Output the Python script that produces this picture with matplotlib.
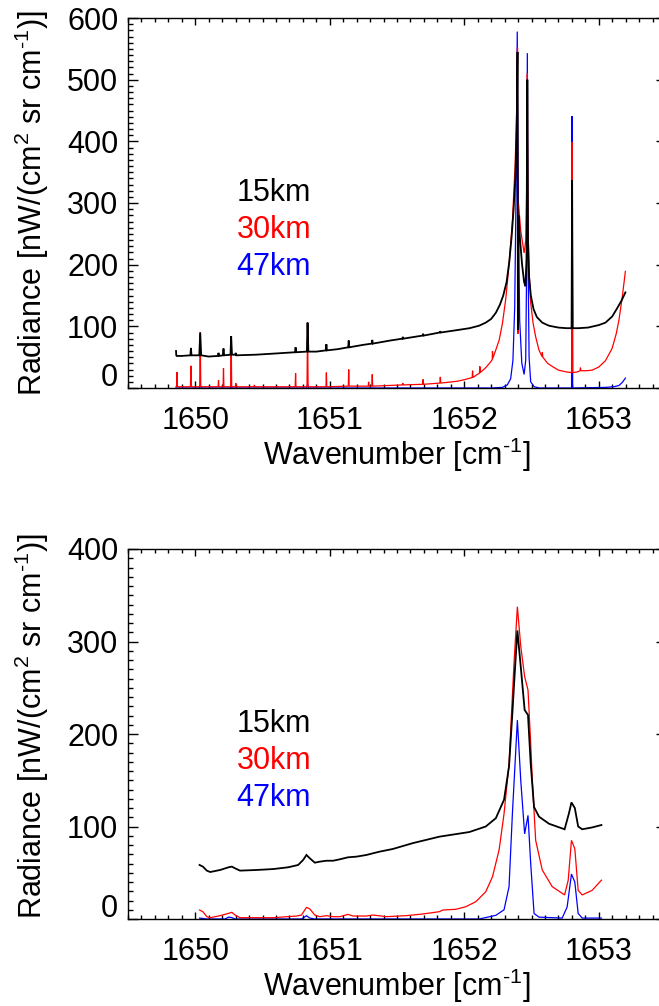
import matplotlib
matplotlib.use("Agg")
import matplotlib.pyplot as plt
from matplotlib.ticker import MultipleLocator, FixedLocator, FuncFormatter

plt.rcParams["font.family"] = ["Liberation Sans", "DejaVu Sans"]
plt.rcParams["mathtext.fontset"] = "custom"
plt.rcParams["mathtext.rm"] = "Liberation Sans"
plt.rcParams["mathtext.it"] = "Liberation Sans:italic"
plt.rcParams["mathtext.bf"] = "Liberation Sans:bold"

# ---- data ----
labels = ["15km", "30km", "47km"]
colors = ["black", "red", "blue"]

# top panel: high resolution spectra
top_wn_15 = [1649.857, 1649.859, 1649.862, 1649.900, 1649.964, 1649.968, 1649.972, 1650.030, 1650.037,
             1650.044, 1650.100, 1650.168, 1650.173, 1650.178, 1650.205, 1650.210, 1650.215, 1650.262,
             1650.267, 1650.273, 1650.298, 1650.301, 1650.305, 1650.450, 1650.600, 1650.742, 1650.746,
             1650.750, 1650.830, 1650.835, 1650.841, 1650.900, 1650.971, 1650.975, 1650.979, 1651.060,
             1651.137, 1651.141, 1651.145, 1651.250, 1651.312, 1651.316, 1651.320, 1651.450, 1651.540,
             1651.543, 1651.546, 1651.690, 1651.694, 1651.698, 1651.818, 1651.822, 1651.826, 1651.950,
             1652.040, 1652.110, 1652.160, 1652.200, 1652.235, 1652.265, 1652.290, 1652.315, 1652.335,
             1652.352, 1652.367, 1652.380, 1652.390, 1652.396, 1652.399, 1652.403, 1652.415, 1652.430,
             1652.445, 1652.455, 1652.463, 1652.469, 1652.474, 1652.482, 1652.495, 1652.515, 1652.540,
             1652.580, 1652.630, 1652.700, 1652.760, 1652.798, 1652.802, 1652.806, 1652.850, 1652.920,
             1653.000, 1653.050, 1653.100, 1653.136, 1653.170, 1653.198]
top_rad_15 = [60, 53, 52, 52, 53, 65, 53, 53, 90,
              53, 51, 52, 57, 52, 53, 64, 53, 54,
              84, 54, 54, 57, 53, 54, 56, 58, 66,
              58, 59, 106, 59, 59, 61, 71, 61, 63,
              66, 77, 66, 70, 72, 78, 72, 77, 80,
              83, 80, 85, 88, 85, 90, 92, 90, 94,
              97, 101, 106, 112, 122, 135, 150, 172, 205,
              245, 290, 340, 420, 545, 94, 280, 240, 200,
              172, 165, 210, 500, 240, 180, 150, 128, 115,
              106, 101, 98, 97, 97, 337, 97, 97, 98,
              102, 106, 116, 129, 142, 155]

top_wn_30 = [1649.857, 1649.861, 1649.864, 1649.867, 1649.964, 1649.968, 1649.972, 1650.033, 1650.037,
             1650.041, 1650.170, 1650.173, 1650.176, 1650.207, 1650.210, 1650.213, 1650.263, 1650.267,
             1650.271, 1650.298, 1650.301, 1650.304, 1650.437, 1650.440, 1650.443, 1650.743, 1650.746,
             1650.749, 1650.831, 1650.835, 1650.839, 1650.972, 1650.975, 1650.978, 1651.138, 1651.141,
             1651.144, 1651.286, 1651.289, 1651.292, 1651.313, 1651.316, 1651.319, 1651.540, 1651.543,
             1651.546, 1651.691, 1651.694, 1651.697, 1651.819, 1651.822, 1651.825, 1651.950, 1652.010,
             1652.059, 1652.062, 1652.065, 1652.090, 1652.113, 1652.116, 1652.119, 1652.160, 1652.195,
             1652.208, 1652.210, 1652.212, 1652.235, 1652.260, 1652.284, 1652.309, 1652.333, 1652.358,
             1652.378, 1652.390, 1652.396, 1652.399, 1652.403, 1652.420, 1652.445, 1652.458, 1652.465,
             1652.469, 1652.474, 1652.482, 1652.494, 1652.512, 1652.531, 1652.555, 1652.578, 1652.581,
             1652.584, 1652.620, 1652.654, 1652.700, 1652.760, 1652.798, 1652.802, 1652.806, 1652.840,
             1652.861, 1652.864, 1652.867, 1652.910, 1652.951, 1653.000, 1653.049, 1653.099, 1653.130,
             1653.150, 1653.175, 1653.198]
top_rad_30 = [2, 2, 26, 2, 2, 36, 2, 2, 90,
              2, 2, 13, 2, 2, 32, 2, 2, 83,
              2, 2, 8, 2, 2, 5, 2, 2, 24,
              2, 2, 106, 2, 2, 25, 2, 3, 30,
              3, 3, 10, 3, 3, 22, 3, 5, 8,
              5, 6, 14, 6, 8, 18, 8, 11, 14,
              17, 28, 17, 21, 24, 35, 25, 33, 42,
              46, 60, 48, 62, 78, 105, 145, 200, 270,
              360, 450, 552, 88, 300, 255, 219, 240, 330,
              510, 260, 190, 138, 105, 83, 62, 51, 58,
              50, 40, 35, 29, 26, 25, 399, 25, 26,
              28, 33, 28, 28, 29, 34, 44, 64, 88,
              110, 148, 189]

top_wn_47 = [1649.857, 1650.030, 1650.037, 1650.044, 1650.260, 1650.267, 1650.274, 1650.828, 1650.835,
             1650.842, 1652.200, 1652.284, 1652.320, 1652.345, 1652.362, 1652.375, 1652.386, 1652.394,
             1652.402, 1652.412, 1652.428, 1652.445, 1652.457, 1652.464, 1652.469, 1652.474, 1652.482,
             1652.494, 1652.520, 1652.560, 1652.798, 1652.802, 1652.806, 1653.050, 1653.110, 1653.150,
             1653.175, 1653.198]
top_rad_47 = [0, 0, 5, 0, 0, 4, 0, 0, 6,
              0, 0, 1, 5, 15, 45, 130, 330, 578,
              300, 110, 40, 22, 45, 200, 543, 220, 50,
              10, 2, 0, 0, 441, 0, 1, 2, 4,
              9, 16]

# bottom panel: convolved spectra
bot_wn_15 = [1650.032, 1650.057, 1650.086, 1650.111, 1650.185, 1650.247, 1650.272, 1650.296, 1650.333,
             1650.457, 1650.580, 1650.691, 1650.765, 1650.802, 1650.827, 1650.852, 1650.889, 1650.926,
             1650.975, 1651.025, 1651.074, 1651.136, 1651.198, 1651.272, 1651.321, 1651.370, 1651.469,
             1651.617, 1651.815, 1652.037, 1652.160, 1652.235, 1652.296, 1652.333, 1652.358, 1652.375,
             1652.395, 1652.420, 1652.449, 1652.474, 1652.494, 1652.519, 1652.556, 1652.630, 1652.746,
             1652.778, 1652.797, 1652.822, 1652.847, 1652.877, 1652.951, 1653.020]
bot_rad_15 = [58.4, 56.6, 52.3, 50.8, 53.0, 55.9, 56.6, 54.8, 52.3,
              53.0, 54.0, 55.9, 58.4, 63.8, 69.2, 65.6, 60.9, 62.0,
              63.0, 63.0, 64.5, 66.7, 67.4, 69.2, 71.0, 72.8, 75.7,
              82.0, 89.0, 94.0, 100.0, 109.0, 129.0, 165.0, 223.0, 265.0,
              312.0, 273.0, 226.0, 220.5, 168.0, 121.0, 110.6, 103.0, 97.0,
              114.0, 126.0, 120.0, 100.0, 97.0, 99.0, 101.6]

bot_wn_30 = [1650.032, 1650.057, 1650.086, 1650.111, 1650.185, 1650.247, 1650.272, 1650.296, 1650.333,
             1650.580, 1650.753, 1650.790, 1650.827, 1650.852, 1650.889, 1650.926, 1650.975, 1651.025,
             1651.074, 1651.136, 1651.173, 1651.272, 1651.321, 1651.420, 1651.568, 1651.691, 1651.815,
             1651.840, 1651.938, 1652.012, 1652.086, 1652.160, 1652.210, 1652.259, 1652.296, 1652.333,
             1652.370, 1652.395, 1652.420, 1652.449, 1652.474, 1652.494, 1652.506, 1652.531, 1652.580,
             1652.654, 1652.746, 1652.773, 1652.797, 1652.822, 1652.847, 1652.877, 1652.951, 1653.020]
bot_rad_30 = [9.7, 7.9, 2.5, 1.4, 3.6, 6.1, 7.2, 4.3, 1.4,
              1.4, 3.2, 4.3, 12.6, 10.8, 4.3, 2.5, 3.6, 2.5,
              2.5, 5.0, 3.2, 3.2, 4.3, 2.5, 3.6, 5.4, 7.9,
              9.7, 10.5, 13.3, 18.7, 29.5, 45.7, 74.6, 114.0, 168.0,
              277.0, 337.6, 295.0, 262.0, 247.6, 190.0, 150.0, 85.0, 53.0,
              35.0, 26.0, 42.0, 85.0, 76.0, 31.0, 26.0, 31.0, 42.0]

bot_wn_47 = [1650.032, 1650.086, 1650.222, 1650.247, 1650.272, 1650.296, 1650.790, 1650.827, 1650.852,
             1650.889, 1652.111, 1652.235, 1652.296, 1652.333, 1652.358, 1652.395, 1652.420, 1652.449,
             1652.474, 1652.494, 1652.519, 1652.556, 1652.728, 1652.765, 1652.797, 1652.822, 1652.847,
             1652.877, 1653.020]
bot_rad_47 = [1.0, 0.0, 0.0, 2.0, 1.5, 0.0, 0.0, 3.5, 1.0,
              0.0, 0.0, 4.0, 10.0, 35.0, 114.0, 215.0, 150.0, 92.0,
              112.0, 60.0, 6.0, 2.0, 1.0, 13.0, 48.6, 40.0, 6.0,
              1.0, 1.0]

x_major = [1650, 1651, 1652, 1653]

# ---- figure ----
W, H = 659, 1006
fig = plt.figure(figsize=(W / 100, H / 100), dpi=100)

ax_left = 128 / W
ax_w = (666 - 128) / W
ax_h = 370 / H
ax1 = fig.add_axes([ax_left, (H - 388) / H, ax_w, ax_h])
ax2 = fig.add_axes([ax_left, (H - 919) / H, ax_w, ax_h])

top_series = [(top_wn_15, top_rad_15), (top_wn_30, top_rad_30), (top_wn_47, top_rad_47)]
bot_series = [(bot_wn_15, bot_rad_15), (bot_wn_30, bot_rad_30), (bot_wn_47, bot_rad_47)]
widths = [1.3, 0.9, 0.9]

fs = 22
ylab = r"Radiance [nW/(cm$^{2}$ sr cm$^{\text{-1}}$)]"
xlab = r"Wavenumber [cm$^{\text{-1}}$]"


def no_zero(v, pos):
    return "" if abs(v) < 1e-9 else f"{v:g}"


for ax, series, ymax, ystep, label_y in [(ax1, top_series, 600, 100, 0.50),
                                          (ax2, bot_series, 400, 100, 0.52)]:
    # blue underneath, black on top (as in the reference)
    for (wn, rad), c, lw in list(zip(series, colors, widths))[::-1]:
        ax.plot(wn, rad, color=c, lw=lw, solid_joinstyle="miter")

    ax.set_xlim(1649.5, 1653.5)
    ax.set_ylim(0, ymax)
    ax.xaxis.set_major_locator(FixedLocator(x_major))
    ax.xaxis.set_minor_locator(MultipleLocator(0.1))
    ax.yaxis.set_major_locator(MultipleLocator(ystep))
    ax.yaxis.set_minor_locator(MultipleLocator(ystep / 10))
    ax.yaxis.set_major_formatter(FuncFormatter(no_zero))

    ax.tick_params(axis="both", which="both", direction="in", top=True, right=True,
                   width=1.0, color="black")
    ax.tick_params(axis="x", which="major", length=5, pad=13, labelsize=fs)
    ax.tick_params(axis="x", which="minor", length=2.8)
    ax.tick_params(axis="y", which="major", length=7.5, pad=7, labelsize=fs)
    ax.tick_params(axis="y", which="minor", length=3.6, right=False)
    for sp in ax.spines.values():
        sp.set_linewidth(1.0)

    # the zero label sits a bit above its tick in the reference
    ax.annotate("0", xy=(0, 0), xycoords="axes fraction", xytext=(-7, 7.5),
                textcoords="offset points", ha="right", va="center", fontsize=fs)

    ax.set_xlabel(xlab, fontsize=fs)
    ax.xaxis.set_label_coords(0.5, -0.128)
    ax.set_ylabel(ylab, fontsize=fs)
    ax.yaxis.set_label_coords(-0.143, label_y)

    for i, (lab, c) in enumerate(zip(labels, colors)):
        ax.text(0.202, 0.528 - i * 0.1, lab, color=c, fontsize=fs,
                transform=ax.transAxes, ha="left", va="center")

fig.savefig("out.png", dpi=100)
